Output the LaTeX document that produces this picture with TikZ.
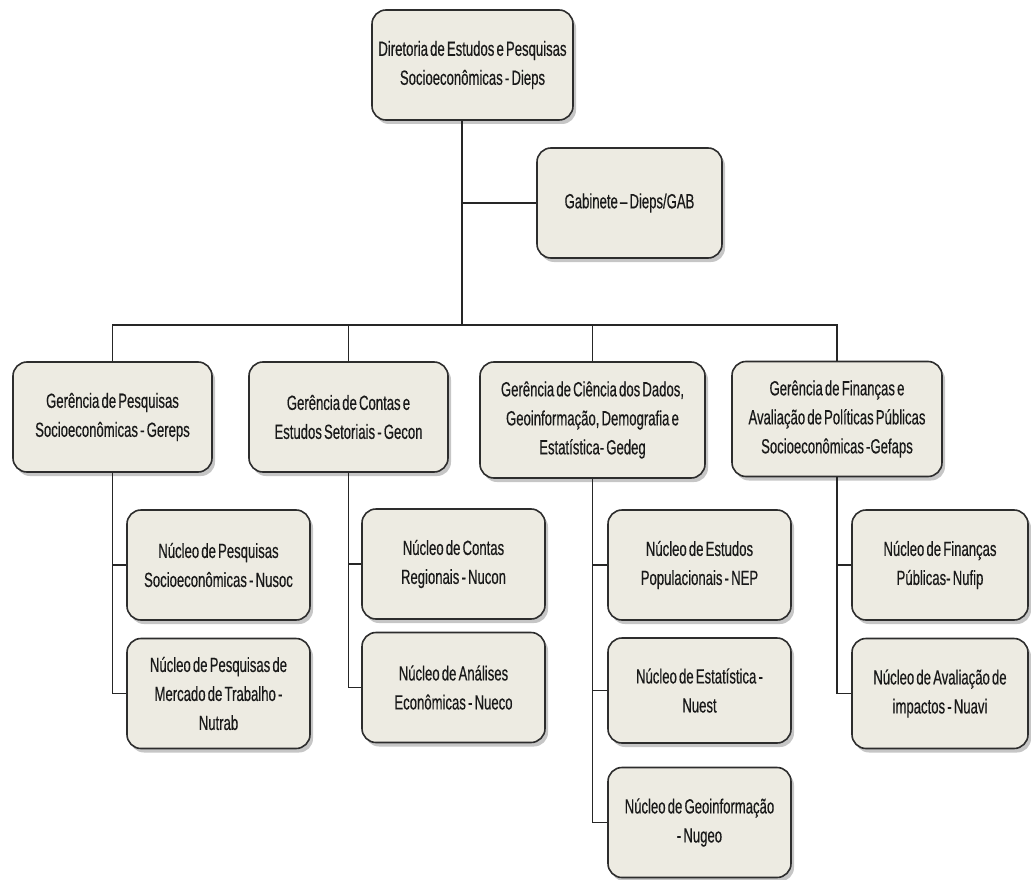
\documentclass[tikz,border=0pt]{standalone}
\usepackage{fontspec}
\setmainfont{Liberation Sans}[FakeStretch=0.64,WordSpace=0.6,FakeBold=0.4]
\usetikzlibrary{shadows}
\definecolor{boxfill}{RGB}{237,235,226}
\definecolor{boxline}{RGB}{45,45,45}

\begin{document}
\begin{tikzpicture}[x=1pt,y=-1pt,
        box/.style={draw=boxline,line width=1.6pt,fill=boxfill,rectangle,rounded corners=14pt,align=center,
            font=\fontsize{20.5}{29}\selectfont,text=black!90,
            drop shadow={shadow xshift=3pt,shadow yshift=-4pt,opacity=0.45}},
        sub/.style={box,minimum width=183pt,minimum height=110pt},
        link/.style={line width=1.3pt,draw=black!85}]
            \useasboundingbox (0,0) rectangle (1031,880);
            \node (n1) at (472.5,65)[box,minimum width=201pt,minimum height=110pt]{Diretoria de Estudos e Pesquisas\\Socioeconômicas - Dieps};
            \node (n2) at (629.5,203)[box,minimum width=185pt,minimum height=110pt]{Gabinete – Dieps/GAB};
            \node (n3) at (112.5,417)[box,minimum width=199pt,minimum height=110pt]{Gerência de Pesquisas\\Socioeconômicas - Gereps};
            \node (n4) at (348.5,417)[box,minimum width=199pt,minimum height=110pt]{Gerência de Contas e\\Estudos Setoriais - Gecon};
            \node (n5) at (592.5,420)[box,minimum width=225pt,minimum height=116pt]{Gerência de Ciência dos Dados,\\Geoinformação, Demografia e\\Estatística- Gedeg};
            \node (n6) at (837,419)[box,minimum width=210pt,minimum height=115pt]{Gerência de Finanças e\\Avaliação de Políticas Públicas\\Socioeconômicas -Gefaps};
            \node (n7) at (218.5,565)[sub]{Núcleo de Pesquisas\\Socioeconômicas - Nusoc};
            \node (n8) at (218.5,693.5)[sub]{Núcleo de Pesquisas de\\Mercado de Trabalho -\\Nutrab};
            \node (n9) at (453.5,564)[sub]{Núcleo de Contas\\Regionais - Nucon};
            \node (n10) at (453.5,687.5)[sub]{Núcleo de Análises\\Econômicas - Nueco};
            \node (n11) at (699.5,565)[sub]{Núcleo de Estudos\\Populacionais - NEP};
            \node (n12) at (699.5,690.5)[sub,minimum height=105pt]{Núcleo de Estatística -\\Nuest};
            \node (n13) at (699.5,822.5)[sub]{Núcleo de Geoinformação\\- Nugeo};
            \node (n14) at (940,565)[sub,minimum width=176pt]{Núcleo de Finanças\\Públicas- Nufip};
            \node (n15) at (940,693.5)[sub,minimum width=176pt]{Núcleo de Avaliação de\\impactos - Nuavi};
            \coordinate (c1) at (462,325);
            \draw [link] (n1.south -| c1)--(c1);
            \draw [link] (c1 |- n2.west)--(n2.west);
            \draw [link] (n3.north) |- (c1) -| (n6.north);
            \draw [link] (n4.north)--(n4.north |- c1);
            \draw [link] (n5.north)--(n5.north |- c1);
            \draw [link] (n3.south) |- (n8.west);
            \draw [link] (n3.south |- n7.west)--(n7.west);
            \draw [link] (n4.south) |- (n10.west);
            \draw [link] (n4.south |- n9.west)--(n9.west);
            \draw [link] (n5.south) |- (n13.west);
            \draw [link] (n5.south |- n11.west)--(n11.west);
            \draw [link] (n5.south |- n12.west)--(n12.west);
            \draw [link] (n6.south) |- (n15.west);
            \draw [link] (n6.south |- n14.west)--(n14.west);
        \end{tikzpicture}
\end{document}
